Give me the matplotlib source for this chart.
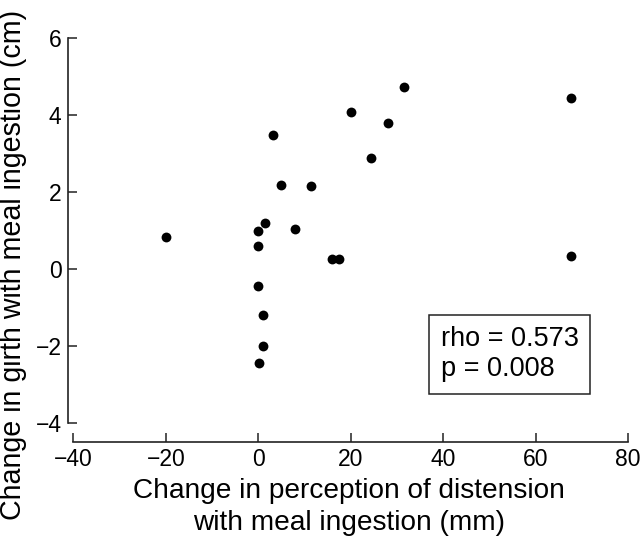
import matplotlib.pyplot as plt

plt.rcParams['font.family'] = ['Liberation Sans', 'DejaVu Sans']

# change in perception of distension (mm) vs change in girth (cm)
distension = [-20.0, 0.0, 0.0, 1.4, 0.0, 1.0, 1.1, 0.2,
              3.2, 5.0, 8.0, 11.3, 15.9, 17.4, 20.1, 24.3,
              28.0, 31.5, 67.6, 67.6]
girth = [0.84, 0.99, 0.59, 1.19, -0.43, -1.2, -2.0, -2.45,
         3.50, 2.20, 1.05, 2.15, 0.26, 0.26, 4.09, 2.88,
         3.81, 4.74, 4.46, 0.33]

x_ticks = [-40, -20, 0, 20, 40, 60, 80]
y_ticks = [-4, -2, 0, 2, 4, 6]
stats_text = "rho = 0.573\np = 0.008"

fig = plt.figure(figsize=(6.4, 5.41), dpi=100)
ax = fig.add_axes([0.1058, 0.1826, 0.878, 0.750])

ax.scatter(distension, girth, s=50, color='black', zorder=3, linewidths=0)

ax.set_xlim(-41.2, 80.3)
ax.set_ylim(-4.5, 6.05)
ax.set_xticks(x_ticks)
ax.set_yticks(y_ticks)
ax.set_xticklabels([str(t).replace('-', '\u2212') for t in x_ticks])
ax.set_yticklabels([str(t).replace('-', '\u2212') for t in y_ticks])

for side in ['top', 'right']:
  ax.spines[side].set_visible(False)
ax.spines['left'].set_bounds(-4, 6)
ax.spines['bottom'].set_bounds(-40, 80)
for side in ['left', 'bottom']:
  ax.spines[side].set_linewidth(1.2)
  ax.spines[side].set_color('#222222')

ax.tick_params(direction='in', length=6.5, width=1.1, labelsize=16.5, colors='#222222')
ax.tick_params(axis='x', labelcolor='black', pad=4.5)
ax.tick_params(axis='y', labelcolor='black', pad=4.5)

ax.set_xlabel("Change in perception of distension\nwith meal ingestion (mm)", fontsize=20.2, linespacing=1.3, labelpad=5)
# y label placed in figure coords so it sits where the original does
fig.text(0.0203, 1 - 265 / 541, "Change in girth with meal ingestion (cm)", fontsize=20.6,
         rotation=90, ha='center', va='center')

ax.text(0.664, 0.217, stats_text, transform=ax.transAxes, fontsize=19.5,
        va='center', ha='left', linespacing=1.2,
        bbox=dict(boxstyle='square,pad=0.42', facecolor='white', edgecolor='#222222', linewidth=1.1))

plt.savefig('out.png', dpi=100)
